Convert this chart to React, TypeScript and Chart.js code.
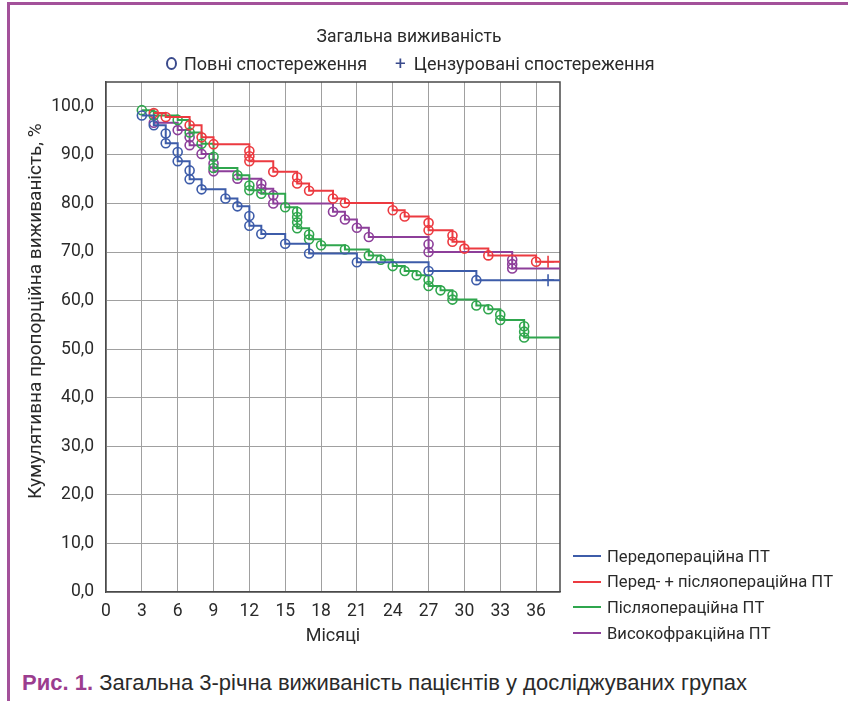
import React, { useEffect, useRef } from 'react';
import { Chart, registerables } from 'chart.js';

Chart.register(...registerables);

// ---- texts ----
const chartTitle = 'Загальна виживаність';
const completeLabel = 'Повні спостереження';
const censoredLabel = 'Цензуровані спостереження';
const xAxisTitle = 'Місяці';
const yAxisTitle = 'Кумулятивна пропорційна виживаність, %';
const captionLead = 'Рис. 1.';
const captionText = 'Загальна 3-річна виживаність пацієнтів у досліджуваних групах';

// ---- axes ----
const xTickValues = [0, 3, 6, 9, 12, 15, 18, 21, 24, 27, 30, 33, 36];
const yTickValues = [0, 10, 20, 30, 40, 50, 60, 70, 80, 90, 100];
const xMax = 38;
const yMax = 105;

// ---- groups ----
const groupNames = [
  'Передопераційна ПТ',
  'Перед- + післяопераційна ПТ',
  'Післяопераційна ПТ',
  'Високофракційна ПТ',
];
const groupColors = ['#3d5ca9', '#ec3a40', '#2fa64d', '#8d3f9a'];

// Передопераційна ПТ
const preMonths = [3, 4, 5, 5, 6, 6, 7, 7, 8, 10, 11, 12, 12, 13, 15, 17, 21, 27, 31];
const preSurvival = [98.1, 96.1, 94.4, 92.4, 90.6, 88.7, 86.8, 85.0, 82.9, 81.0, 79.4, 77.4, 75.4, 73.7, 71.7, 69.7, 67.9, 66.1, 64.2];
const preCensMonths = [37];
const preCensSurvival = [64.2];

// Перед- + післяопераційна ПТ
const prePostMonths = [4, 5, 7, 8, 9, 12, 12, 12, 14, 16, 16, 17, 19, 20, 24, 25, 27, 27, 29, 29, 30, 32, 36];
const prePostSurvival = [98.6, 97.8, 96.1, 93.6, 92.2, 90.8, 89.7, 88.7, 86.5, 85.4, 84.1, 82.6, 81.0, 80.1, 78.6, 77.3, 76.0, 74.5, 73.4, 72.1, 70.7, 69.3, 68.0];
const prePostCensMonths = [37];
const prePostCensSurvival = [68.0];

// Післяопераційна ПТ
const postMonths = [3, 4, 6, 7, 8, 9, 9, 11, 12, 12, 13, 15, 16, 16, 16, 16, 17, 17, 18, 20, 22, 23, 24, 25, 26, 27, 27, 28, 29, 29, 31, 32, 33, 33, 35, 35, 35];
const postSurvival = [99.2, 98.1, 97.2, 94.6, 92.3, 89.6, 87.3, 85.8, 83.7, 82.7, 82.0, 79.2, 78.3, 77.2, 76.1, 74.9, 73.6, 72.6, 71.4, 70.5, 69.3, 68.4, 67.1, 66.1, 65.2, 64.3, 63.0, 62.1, 61.1, 60.2, 59.0, 58.2, 57.1, 56.0, 54.7, 53.6, 52.4];
const postCensMonths: number[] = [];
const postCensSurvival: number[] = [];

// Високофракційна ПТ
const hypoMonths = [4, 6, 7, 7, 8, 9, 9, 11, 13, 13, 14, 14, 19, 20, 21, 22, 27, 27, 34, 34, 34];
const hypoSurvival = [96.6, 95.1, 93.6, 92.0, 90.2, 88.2, 86.6, 85.1, 84.0, 83.0, 81.7, 80.0, 78.3, 76.7, 75.0, 73.1, 71.6, 70.0, 68.4, 67.5, 66.6];
const hypoCensMonths: number[] = [];
const hypoCensSurvival: number[] = [];

const groupMonths = [preMonths, prePostMonths, postMonths, hypoMonths];
const groupSurvival = [preSurvival, prePostSurvival, postSurvival, hypoSurvival];
const groupCensMonths = [preCensMonths, prePostCensMonths, postCensMonths, hypoCensMonths];
const groupCensSurvival = [preCensSurvival, prePostCensSurvival, postCensSurvival, hypoCensSurvival];

const FONT = 'Roboto, "Noto Sans", sans-serif';
const TEXT = '#2a2a2a';

const framePlugin = {
  id: 'frame',
  beforeDatasetsDraw(chart: any) {
    const { ctx, chartArea } = chart;
    ctx.save();
    ctx.strokeStyle = '#4a4a4a';
    ctx.lineWidth = 1.5;
    ctx.beginPath();
    ctx.moveTo(chartArea.left, chartArea.top);
    ctx.lineTo(chartArea.right, chartArea.top);
    ctx.lineTo(chartArea.right, chartArea.bottom);
    ctx.stroke();
    ctx.restore();
  },
};

function buildDatasets() {
  const ds: any[] = [];
  groupNames.forEach((name, g) => {
    const months = groupMonths[g];
    const surv = groupSurvival[g];
    const n = months.length;
    const pts = months.map((m, i) => ({ x: m, y: surv[i] }));
    pts.push({ x: xMax, y: surv[n - 1] });
    ds.push({
      type: 'line',
      label: name,
      data: pts,
      stepped: true,
      borderColor: groupColors[g],
      borderWidth: 2,
      backgroundColor: 'transparent',
      fill: false,
      pointStyle: 'circle',
      pointRadius: pts.map((_, i) => (i < n ? 4.5 : 0)),
      pointBorderWidth: 1.6,
      pointBorderColor: groupColors[g],
      pointBackgroundColor: 'rgba(0,0,0,0)',
    });
    const cm = groupCensMonths[g];
    if (cm.length) {
      ds.push({
        type: 'scatter',
        label: name + ' — цензуровані',
        data: cm.map((m, i) => ({ x: m, y: groupCensSurvival[g][i] })),
        showLine: false,
        pointStyle: 'cross',
        pointRadius: 6,
        pointBorderWidth: 1.6,
        borderColor: groupColors[g],
        pointBorderColor: groupColors[g],
        backgroundColor: groupColors[g],
      });
    }
  });
  return ds;
}

function fmt(v: number) {
  return v.toFixed(1).replace('.', ',');
}

export default function App() {
  const ref = useRef<HTMLCanvasElement | null>(null);

  useEffect(() => {
    if (!ref.current) return;
    const chart = new Chart(ref.current, {
      type: 'line',
      data: { datasets: buildDatasets() },
      plugins: [framePlugin],
      options: {
        responsive: false,
        animation: false,
        events: [],
        layout: { padding: { left: 21, top: 82, right: 288, bottom: 9 } },
        plugins: {
          legend: { display: false },
          title: { display: false },
          tooltip: { enabled: false },
        },
        scales: {
          x: {
            type: 'linear',
            min: 0,
            max: xMax,
            afterFit: (s: any) => { s.height = 59; },
            afterBuildTicks: (s: any) => { s.ticks = xTickValues.map((v) => ({ value: v })); },
            ticks: {
              stepSize: 3,
              includeBounds: false,
              padding: 9,
              color: TEXT,
              font: { family: FONT, size: 17.5 },
              maxRotation: 0,
            },
            grid: { color: '#a0a0a0', lineWidth: 1, drawTicks: false },
            border: { display: true, color: '#4a4a4a', width: 1.5 },
            title: {
              display: true,
              text: xAxisTitle,
              color: TEXT,
              font: { family: FONT, size: 18 },
              padding: { top: 4, bottom: 4 },
            },
          },
          y: {
            type: 'linear',
            min: 0,
            max: yMax,
            afterFit: (s: any) => { s.width = 85; },
            afterBuildTicks: (s: any) => { s.ticks = yTickValues.map((v) => ({ value: v })); },
            ticks: {
              stepSize: 10,
              includeBounds: false,
              padding: 12,
              color: TEXT,
              font: { family: FONT, size: 17.5 },
              callback: (v: any) => fmt(Number(v)),
            },
            grid: { color: '#a0a0a0', lineWidth: 1, drawTicks: false },
            border: { display: true, color: '#4a4a4a', width: 1.5 },
            title: {
              display: true,
              text: '           ' + yAxisTitle,
              color: TEXT,
              font: { family: FONT, size: 19 },
              padding: { top: 4, bottom: 4 },
            },
          },
        },
      } as any,
    });
    return () => chart.destroy();
  }, []);

  const legendRows = groupNames.map((name, i) => (
    <div key={name} style={{ position: 'absolute', left: 573, top: 556 + i * 25.7 - 12, height: 24, display: 'flex', alignItems: 'center' }}>
      <div style={{ width: 28, height: 2, background: groupColors[i], marginRight: 6 }} />
      <span style={{ fontFamily: FONT, fontSize: 16.6, color: TEXT, whiteSpace: 'nowrap' }}>{name}</span>
    </div>
  ));

  return (
    <div style={{ position: 'absolute', left: 0, top: 0, width: 848, height: 701, background: '#ffffff', overflow: 'hidden' }}>
      <div style={{ position: 'absolute', left: 7, top: 2, right: 0, height: 3, background: '#a3519a' }} />
      <div style={{ position: 'absolute', left: 7, top: 2, width: 3, bottom: 0, background: '#a3519a' }} />
      <canvas ref={ref} width={848} height={660} style={{ position: 'absolute', left: 0, top: 0 }} />
      <div style={{ position: 'absolute', left: 0, width: 818, top: 24, textAlign: 'center', fontFamily: FONT, fontSize: 17.5, color: TEXT, lineHeight: '24px' }}>
        {chartTitle}
      </div>
      <div style={{ position: 'absolute', left: 166, top: 51, height: 24, display: 'flex', alignItems: 'center', fontFamily: FONT, fontSize: 18, color: TEXT, whiteSpace: 'nowrap' }}>
        <span style={{ display: 'inline-block', width: 7, height: 9, border: '2px solid #3a4a8c', borderRadius: '50%', marginRight: 7 }} />
        <span>{completeLabel}</span>
        <span style={{ color: '#3a4a8c', fontSize: 19, marginLeft: 28, marginRight: 8 }}>+</span>
        <span>{censoredLabel}</span>
      </div>
      {legendRows}
      <div style={{ position: 'absolute', left: 22, top: 668, whiteSpace: 'nowrap', fontFamily: '"Liberation Sans Narrow", "Liberation Sans", Arial, sans-serif', fontSize: 22, color: '#2a2a2a', lineHeight: '30px' }}>
        <span style={{ color: '#9b3d8f', fontWeight: 'bold' }}>{captionLead}</span> {captionText}
      </div>
    </div>
  );
}
